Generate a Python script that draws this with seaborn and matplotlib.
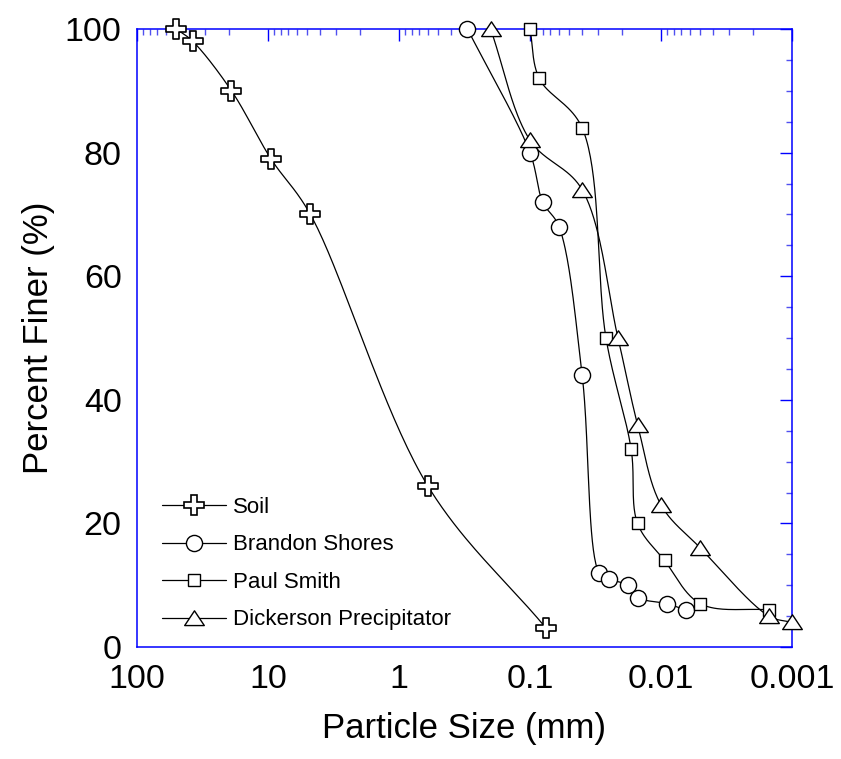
import numpy as np
import pandas as pd
import matplotlib
matplotlib.use("Agg")
import matplotlib.pyplot as plt
import seaborn as sns
from matplotlib.ticker import FixedLocator, FixedFormatter, LogLocator, NullFormatter, MultipleLocator
from matplotlib.lines import Line2D
from matplotlib.path import Path

# ---------------- data ----------------
soil_size = [50, 37.5, 19, 9.5, 4.75, 0.6, 0.075]
soil_pct = [100, 98, 90, 79, 70, 26, 3]

brandon_size = [0.3, 0.1, 0.08, 0.06, 0.04, 0.0297, 0.0251, 0.0179, 0.0151, 0.009, 0.0065]
brandon_pct = [100, 80, 72, 68, 44, 12, 11, 10, 8, 7, 6]

paul_size = [0.1, 0.085, 0.04, 0.0263, 0.0169, 0.0151, 0.0094, 0.005, 0.0015]
paul_pct = [100, 92, 84, 50, 32, 20, 14, 7, 6]

dick_size = [0.2, 0.1, 0.04, 0.0213, 0.0151, 0.01, 0.005, 0.0015, 0.001]
dick_pct = [100, 82, 74, 50, 36, 23, 16, 5, 4]

series_names = ["Soil", "Brandon Shores", "Paul Smith", "Dickerson Precipitator"]

x_ticks = [100, 10, 1, 0.1, 0.01, 0.001]
x_tick_labels = ["100", "10", "1", "0.1", "0.01", "0.001"]
y_ticks = [0, 20, 40, 60, 80, 100]

# ---------------- style ----------------
sns.set_theme(style="white")
plt.rcParams["font.family"] = ["Liberation Sans", "DejaVu Sans"]
plt.rcParams["text.color"] = "black"

W, H = 841, 759
fig = plt.figure(figsize=(W / 100, H / 100), dpi=100)
ax_l, ax_r, ax_t, ax_b = 137, 792, 29, 647
ax = fig.add_axes([ax_l / W, 1 - ax_b / H, (ax_r - ax_l) / W, (ax_b - ax_t) / H])
ax.set_xscale("log")
ax.set_xlim(100, 0.001)
ax.set_ylim(0, 100)

PXW = ax_r - ax_l
PXH = ax_b - ax_t


def smooth(xs, ys, n=40):
    """Centripetal Catmull-Rom through the data points, computed in screen-like space."""
    u = (2 - np.log10(np.asarray(xs, float))) / 5 * PXW
    v = np.asarray(ys, float) / 100 * PXH
    P = np.column_stack([u, v])
    P = np.vstack([2 * P[0] - P[1], P, 2 * P[-1] - P[-2]])
    out = []
    for i in range(1, len(P) - 2):
        p0, p1, p2, p3 = P[i - 1], P[i], P[i + 1], P[i + 2]
        t0 = 0.0
        t1 = t0 + np.linalg.norm(p1 - p0) ** 0.5 + 1e-9
        t2 = t1 + np.linalg.norm(p2 - p1) ** 0.5 + 1e-9
        t3 = t2 + np.linalg.norm(p3 - p2) ** 0.5 + 1e-9
        t = np.linspace(t1, t2, n)[:, None]
        A1 = (t1 - t) / (t1 - t0) * p0 + (t - t0) / (t1 - t0) * p1
        A2 = (t2 - t) / (t2 - t1) * p1 + (t - t1) / (t2 - t1) * p2
        A3 = (t3 - t) / (t3 - t2) * p2 + (t - t2) / (t3 - t2) * p3
        B1 = (t2 - t) / (t2 - t0) * A1 + (t - t0) / (t2 - t0) * A2
        B2 = (t3 - t) / (t3 - t1) * A2 + (t - t1) / (t3 - t1) * A3
        C = (t2 - t) / (t2 - t1) * B1 + (t - t1) / (t2 - t1) * B2
        out.append(C)
    C = np.vstack(out)
    return 10 ** (2 - C[:, 0] / PXW * 5), C[:, 1] / PXH * 100


tri = Path([(-1, -0.72), (1, -0.72), (0, 0.78), (-1, -0.72)],
           [Path.MOVETO, Path.LINETO, Path.LINETO, Path.CLOSEPOLY])

specs = [
    (soil_size, soil_pct, "P", 190, 1.2),
    (brandon_size, brandon_pct, "o", 135, 1.0),
    (paul_size, paul_pct, "s", 80, 1.0),
    (dick_size, dick_pct, tri, 200, 1.0),
]

handles = []
for (xs, ys, mk, s, lw), name in zip(specs, series_names):
    cx, cy = smooth(xs, ys)
    sns.lineplot(x=cx, y=cy, sort=False, estimator=None, color="black",
                 linewidth=0.9, ax=ax, zorder=2)
    df = pd.DataFrame({"size": xs, "pct": ys})
    sns.scatterplot(data=df, x="size", y="pct", marker=mk, s=s, color="white",
                    edgecolor="black", linewidth=lw, ax=ax, zorder=3, clip_on=False)
    handles.append(Line2D([], [], color="black", linewidth=0.9, marker=mk,
                          markersize=np.sqrt(s), markerfacecolor="white",
                          markeredgecolor="black", markeredgewidth=lw, label=name))

# ---------------- axes decoration ----------------
blue = "#0000ff"
for sp in ax.spines.values():
    sp.set_color(blue)
    sp.set_linewidth(1.1)
    sp.set_visible(True)

ax.xaxis.set_major_locator(FixedLocator(x_ticks))
ax.xaxis.set_major_formatter(FixedFormatter(x_tick_labels))
ax.xaxis.set_minor_locator(LogLocator(base=10, subs=np.arange(2, 10), numticks=20))
ax.xaxis.set_minor_formatter(NullFormatter())
ax.yaxis.set_major_locator(FixedLocator(y_ticks))
ax.yaxis.set_minor_locator(MultipleLocator(5))

ax.tick_params(which="both", direction="in", top=True, right=True, color=blue,
               labelsize=24.5, labelcolor="black")
ax.tick_params(which="major", length=8.6, width=1.0)
ax.tick_params(which="minor", length=4.3, width=1.0, color="#5050f0")
ax.tick_params(axis="x", which="major", pad=12.5)
ax.tick_params(axis="y", which="major", pad=11)

ax.set_xlabel("Particle Size (mm)", fontsize=25, labelpad=12, color="black")
ax.set_ylabel("Percent Finer (%)", fontsize=25, labelpad=7, color="black")

leg = ax.legend(handles=handles, loc="upper left",
                bbox_to_anchor=((162 - ax_l) / PXW, (ax_b - 497) / PXH),
                frameon=False, fontsize=16, handlelength=2.9, handletextpad=0.3,
                labelspacing=0.74, borderpad=0, borderaxespad=0, numpoints=1)
for t in leg.get_texts():
    t.set_color("black")

fig.savefig("out.png", dpi=100, facecolor="white")
